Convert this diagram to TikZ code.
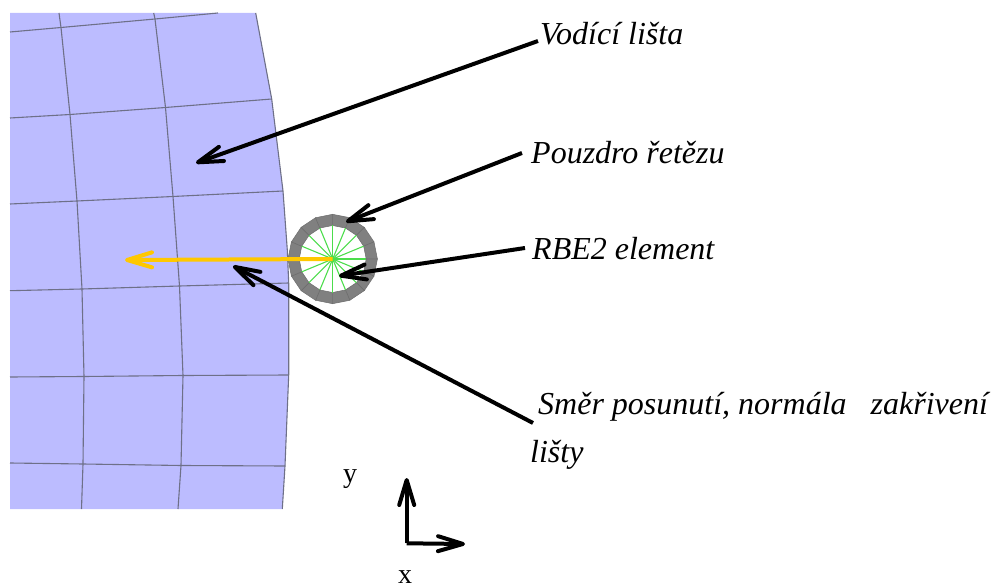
\documentclass[tikz,border=0pt]{standalone}
\usepackage{fontspec}
\setmainfont{Liberation Serif}
\usetikzlibrary{arrows.meta}
\definecolor{lista}{HTML}{BCBCFF}
\definecolor{sit}{HTML}{6E7088}
\definecolor{pouzdro}{HTML}{808080}
\definecolor{rbe}{HTML}{4CDD4C}
\definecolor{smer}{HTML}{FFC800}
\tikzset{
	popis/.style={inner sep=0pt,anchor=base west,font=\fontsize{32}{36}\selectfont\itshape},
	osa/.style={inner sep=0pt,anchor=base,font=\fontsize{28}{32}\selectfont},
	ukazatel/.style={line width=4pt,-{Straight Barb[length=25pt,width=15pt,line width=4pt,round]}},
	sit/.style={color=sit,line width=1.1pt}
}
\begin{document}
\begin{tikzpicture}[x=1pt,y=-1pt]
	\useasboundingbox (0,0) rectangle (991,588);
	% deska
	\fill[color=lista] (10,13) -- (255.7,13) -- (271.7,99) -- (283,191) -- (287.3,250) -- (288.7,283) -- (288.7,375) -- (285,466) -- (282.3,509) -- (10,509) -- cycle;
	\draw[sit] (255.7,13) -- (271.7,99) -- (283,191) -- (287.3,250) -- (288.7,283) -- (288.7,375) -- (285,466) -- (282.3,509);
	\draw[sit] (10,32) -- (61,27.5) -- (155,19) -- (218,13);
	\draw[sit] (10,118) -- (70,114.5) -- (165.5,107.5) -- (271.7,99);
	\draw[sit] (10,204) -- (77,201) -- (173,196.5) -- (283,191);
	\draw[sit] (10,290.7) -- (82,289) -- (179.5,286) -- (288.7,283);
	\draw[sit] (10,377) -- (84,376.5) -- (183,375.5) -- (288.7,375);
	\draw[sit] (10,463) -- (83,464) -- (181,465.5) -- (285,466);
	\draw[sit] (59,13) -- (61,27.5) -- (70,114.5) -- (77,201) -- (82,289) -- (84,376.5) -- (83,464) -- (81.5,509);
	\draw[sit] (153.7,13) -- (155,19) -- (165.5,107.5) -- (173,196.5) -- (179.5,286) -- (183,375.5) -- (181,465.5) -- (178,509);
	% pouzdro
	\coordinate (stred) at (332.7,259);
	\foreach \a in {0,22.5,...,337.5} {
		\pgfmathsetmacro{\b}{\a+22.5}
		\filldraw[fill=pouzdro,draw=pouzdro!85!black,line width=0.5pt] ([shift={(\a:33.5)}]stred) -- ([shift={(\a:44.7)}]stred) -- ([shift={(\b:44.7)}]stred) -- ([shift={(\b:33.5)}]stred) -- cycle;
		\draw[color=rbe,line width=1.1pt] (stred) -- ([shift={(\a:33.5)}]stred);
	}
	% smer
	\coordinate (konec) at (125,260);
	\draw[color=smer,line width=4pt,-{Straight Barb[length=25pt,width=15pt,line width=4pt,round]}] (stred) -- (konec);
	% popisy
	\node[popis] (vodici) at (540,45) {Vodící lišta};
	\node[popis] (retez) at (531,164) {Pouzdro řetězu};
	\node[popis] (element) at (532,260) {RBE2 element};
	\node[popis] (normala) at (538,414) {Směr posunutí, normála\ \ \ zakřivení};
	\node[popis] (listy) at (530,462) {lišty};
	\node[osa] (osay) at (350,482) {y};
	\node[osa] (osax) at (405,583) {x};
	% ukazatele
	\coordinate (cil1) at (196,163);
	\coordinate (cil2) at (346,222);
	\coordinate (cil3) at (339,276);
	\coordinate (cil4) at (233,266);
	\coordinate (pocatek) at (406.7,543.3);
	\coordinate (vrchol) at (406.7,478);
	\coordinate (pravo) at (465,544);
	\draw[ukazatel] ([shift={(-2,-4)}]vodici.base west) -- (cil1);
	\draw[ukazatel] ([shift={(-9,-11)}]retez.base west) -- (cil2);
	\draw[ukazatel] ([shift={(-7,-12)}]element.base west) -- (cil3);
	\draw[ukazatel] ([shift={(-5,9)}]normala.base west) -- (cil4);
	\draw[ukazatel] (pocatek) -- (vrchol);
	\draw[ukazatel] (pocatek) -- (pravo);
\end{tikzpicture}
\end{document}
